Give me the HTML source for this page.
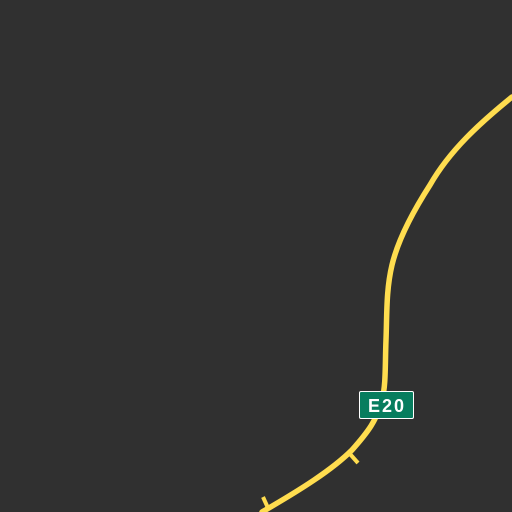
<!DOCTYPE html>
<html><head><meta charset="utf-8"><style>
html,body{margin:0;padding:0;background:#303030;}
svg{display:block}
</style></head><body>
<svg width="512" height="512" viewBox="0 0 512 512">
<rect width="512" height="512" fill="#303030"/>
<path d="M512,97 C480,123 450,150 430,185 C412,213 398,240 392,265 C386,290 387,315 386,340 C385,365 386,385 382,400 C377,420 368,432 352,450 C332,470 300,490 262,512" fill="none" stroke="#ffdd4f" stroke-width="5.5" stroke-linecap="round"/>
<line x1="350" y1="454" x2="358" y2="463" stroke="#ffdd4f" stroke-width="4"/>
<line x1="263" y1="497" x2="268" y2="508" stroke="#ffdd4f" stroke-width="4"/>
<g>
<rect x="359.5" y="391.5" width="54" height="27" rx="1.5" fill="#077d5e" stroke="#ffffff" stroke-width="1"/>
<text x="387" y="412" text-anchor="middle" fill="#ffffff" font-family="Liberation Sans, sans-serif" font-size="18" font-weight="bold" letter-spacing="2">E20</text>
</g>
</svg>
</body></html>
